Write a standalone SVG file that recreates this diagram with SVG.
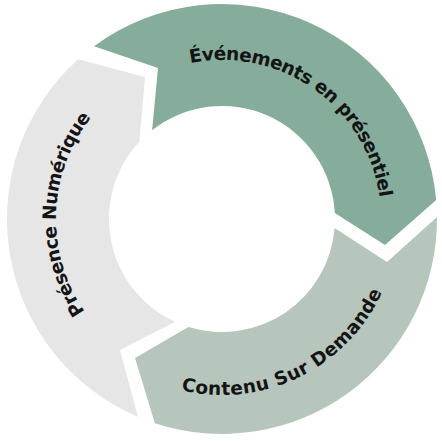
<svg xmlns="http://www.w3.org/2000/svg" width="442" height="441" viewBox="0 0 442 441">
<style>
.lbl{font-family:"DejaVu Sans","Liberation Sans",sans-serif;font-weight:700;font-size:18.5px;fill:#141414;}
</style>
<defs>
<path id="pGreen" d="M155.8,74.4 A159,159 0 0 1 380.3,234.0"/>
<path id="pGray" d="M134.8,359.1 A164,164 0 0 1 144.3,73.5"/>
<path id="pSage" d="M123.6,364.9 A176,176 0 0 0 397.6,231.3"/>
</defs>
<rect width="442" height="441" fill="#ffffff"/>
<g id="node-evenements">
<path d="M94.0,46.3 A215,215 0 0 1 436.2,200.1 L385,245 L334.8,212.9 A113,113 0 0 0 152.1,130.2 L158,68 Z" fill="#86ad9b"/>
<text class="lbl"><textPath href="#pGreen" startOffset="50%" text-anchor="middle" textLength="260" lengthAdjust="spacing">Événements en présentiel</textPath></text>
</g>
<g id="node-contenu">
<path d="M437.0,217.0 A215,215 0 0 1 154.9,423.2 L135,358 L188.4,326.9 A113,113 0 0 0 334.6,228.1 L387,262 Z" fill="#b6c6bd"/>
<text class="lbl"><textPath href="#pSage" startOffset="50%" text-anchor="middle" textLength="242" lengthAdjust="spacing">Contenu Sur Demande</textPath></text>
</g>
<g id="node-presence">
<path d="M138.0,416.9 A215,215 0 0 1 78.1,59.2 L145,77 L139.4,141.8 A113,113 0 0 0 175.1,321.8 L120,350 Z" fill="#e6e6e6"/>
<text class="lbl"><textPath href="#pGray" startOffset="50%" text-anchor="middle" textLength="208" lengthAdjust="spacing">Présence Numérique</textPath></text>
</g>
</svg>
